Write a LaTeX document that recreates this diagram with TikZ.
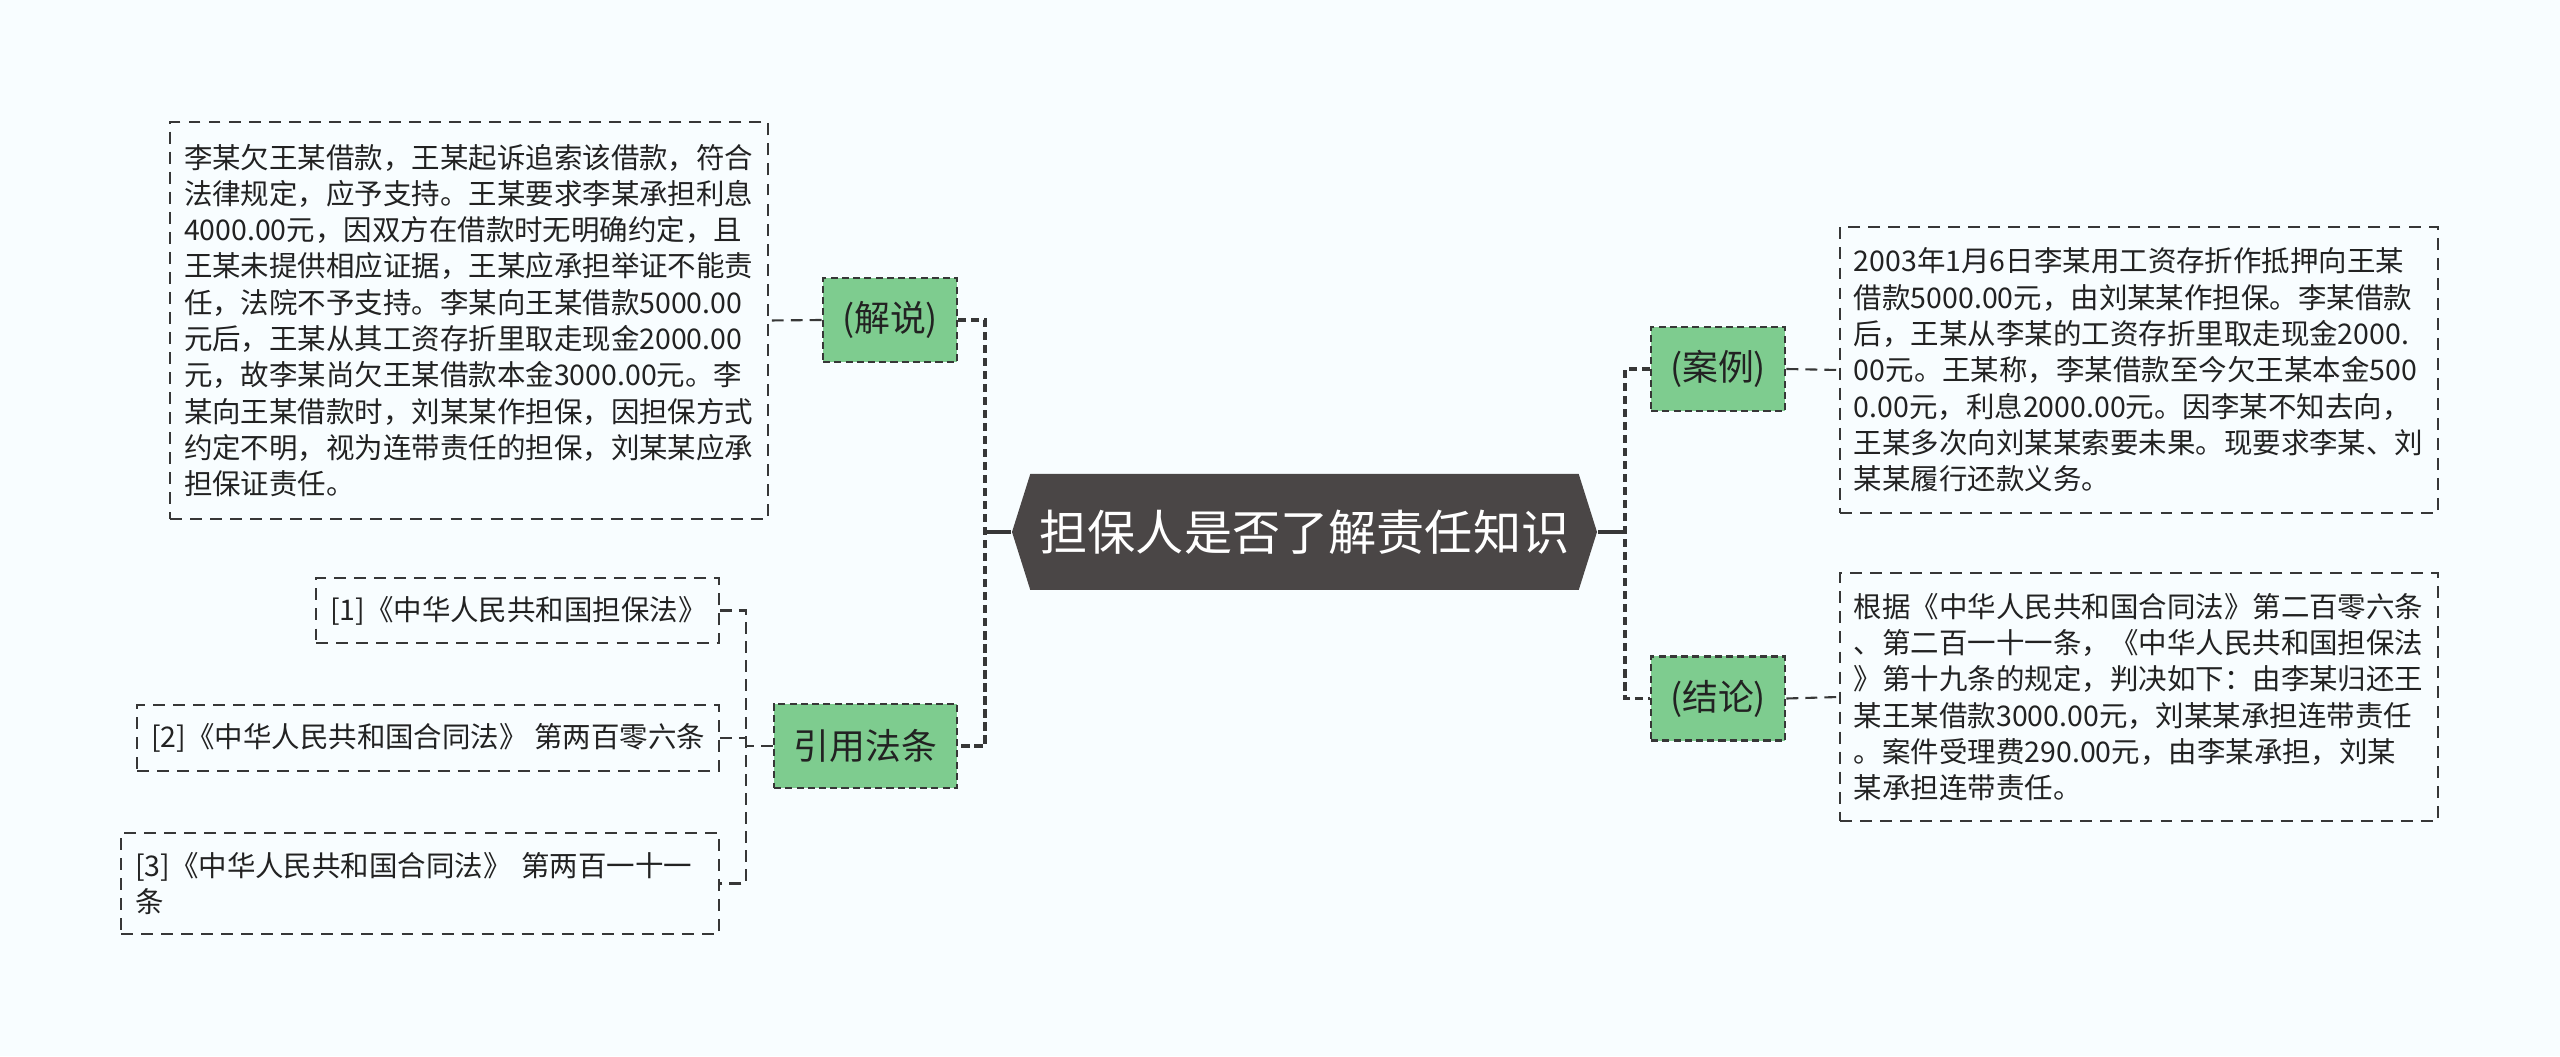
\documentclass[tikz,border=0pt]{standalone}
\usepackage{fontspec}
\setmainfont{Noto Sans CJK SC}
\usetikzlibrary{shapes.symbols}
\definecolor{bgcol}{RGB}{248,253,255}
\definecolor{hubcol}{RGB}{74,70,70}
\definecolor{leafgreen}{RGB}{126,204,143}
\definecolor{linecol}{RGB}{55,55,55}
\definecolor{txtcol}{RGB}{34,34,34}

\begin{document}
\begin{tikzpicture}[
    every node/.style={align=left, text=txtcol, font=\fontsize{8.1}{10.33}\selectfont},
    hub/.style={signal, signal to=west and east, signal pointer angle=145, fill=hubcol,
        text=white, minimum width=5.85cm, minimum height=1.16cm, inner sep=0pt,
        font=\fontsize{13.7}{16}\selectfont},
    topic/.style={draw=linecol, line width=0.75pt, dash pattern=on 2pt off 1.2pt,
        fill=leafgreen, minimum height=0.84cm, inner sep=0pt, align=center,
        font=\fontsize{10.2}{12}\selectfont},
    note/.style={draw=linecol, line width=0.55pt, dash pattern=on 3.4pt off 2.3pt,
        inner xsep=0.14cm, inner ysep=0pt},
    trunk/.style={draw=linecol, line width=1.1pt, dash pattern=on 2.3pt off 1.4pt},
    link/.style={draw=linecol, line width=0.6pt, dash pattern=on 3.4pt off 2pt},
    stem/.style={draw=linecol, line width=0.9pt}
]
    \fill[bgcol] (0,0) rectangle (25.6,10.56);

    \node[hub] (hub) at (13.045,5.24) {担保人是否了解责任知识};

    \node[topic, minimum width=1.34cm] (jieshuo) at (8.90,7.36) {(解说)};
    \node[topic, minimum width=1.83cm] (yinyong) at (8.655,3.10) {引用法条};
    \node[topic, minimum width=1.34cm] (anli) at (17.18,6.87) {(案例)};
    \node[topic, minimum width=1.34cm] (jielun) at (17.18,3.575) {(结论)};

    \node[note, text width=5.70cm, minimum height=3.97cm, anchor=east] (jieshuotxt) at (7.69,7.355)
        {李某欠王某借款，王某起诉追索该借款，符合\\
         法律规定，应予支持。王某要求李某承担利息\\
         4000.00元，因双方在借款时无明确约定，且\\
         王某未提供相应证据，王某应承担举证不能责\\
         任，法院不予支持。李某向王某借款5000.00\\
         元后，王某从其工资存折里取走现金2000.00\\
         元，故李某尚欠王某借款本金3000.00元。李\\
         某向王某借款时，刘某某作担保，因担保方式\\
         约定不明，视为连带责任的担保，刘某某应承\\
         担保证责任。};

    \node[note, text width=3.75cm, minimum height=0.65cm, anchor=east] (ref1) at (7.20,4.455)
        {[1]《中华人民共和国担保法》};
    \node[note, minimum height=0.66cm, anchor=east] (ref2) at (7.20,3.18)
        {[2]《中华人民共和国合同法》 第两百零六条};
    \node[note, text width=5.70cm, minimum height=1.01cm, anchor=east] (ref3) at (7.20,1.725)
        {[3]《中华人民共和国合同法》 第两百一十一\\条};

    \node[note, text width=5.70cm, minimum height=2.86cm, anchor=west] (anlitxt) at (18.39,6.86)
        {2003年1月6日李某用工资存折作抵押向王某\\
         借款5000.00元，由刘某某作担保。李某借款\\
         后，王某从李某的工资存折里取走现金2000.\\
         00元。王某称，李某借款至今欠王某本金500\\
         0.00元，利息2000.00元。因李某不知去向，\\
         王某多次向刘某某索要未果。现要求李某、刘\\
         某某履行还款义务。};
    \node[note, text width=5.70cm, minimum height=2.48cm, anchor=west] (jieluntxt) at (18.39,3.59)
        {根据《中华人民共和国合同法》第二百零六条\\
         、第二百一十一条，《中华人民共和国担保法\\
         》第十九条的规定，判决如下：由李某归还王\\
         某王某借款3000.00元，刘某某承担连带责任\\
         。案件受理费290.00元，由李某承担，刘某\\
         某承担连带责任。};

    \coordinate (lj) at (9.85,5.24);
    \coordinate (rj) at (16.25,5.24);
    \coordinate (yj) at (7.46,3.10);

    \draw[stem] (hub.west) -- (lj);
    \draw[stem] (hub.east) -- (rj);
    \draw[trunk] (jieshuo.east) -| (lj) |- (yinyong.east);
    \draw[trunk] (anli.west) -| (rj) |- (jielun.west);
    \draw[link] (jieshuo.west) -- (jieshuotxt.east);
    \draw[link] (anli.east) -- (anlitxt.west);
    \draw[link] (jielun.east) -- (jieluntxt.west);
    \draw[link] (yinyong.west) -- (yj);
    \draw[link] (ref1.east) -| (yj) |- (ref3.east);
    \draw[link] (ref2.east) -- (ref2.east -| yj);
\end{tikzpicture}
\end{document}
